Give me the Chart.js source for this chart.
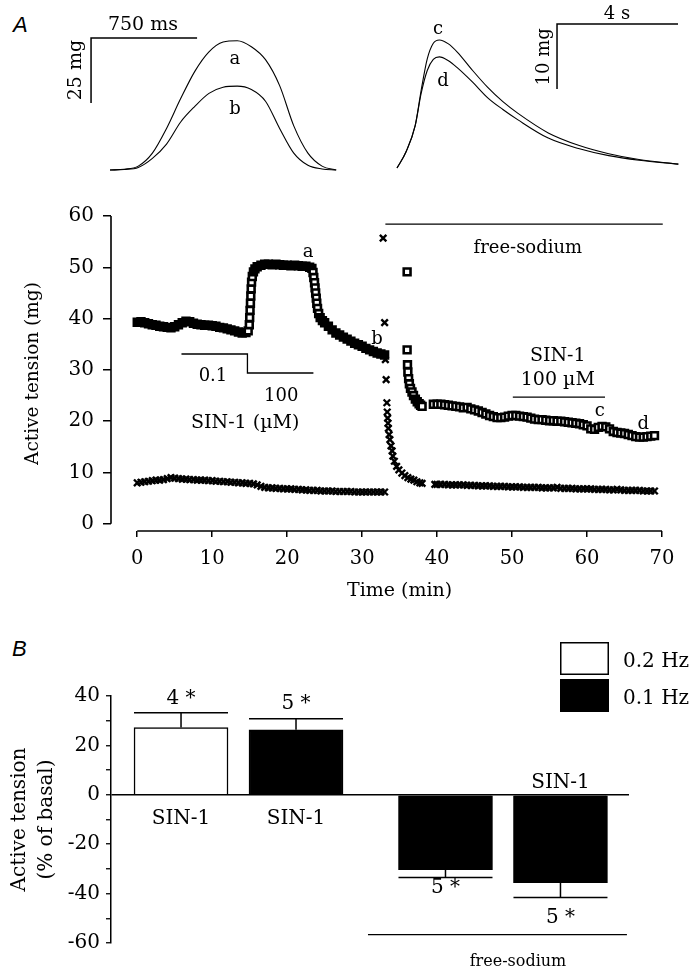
<!DOCTYPE html>
<html>
<head>
<meta charset="utf-8">
<script src="https://cdn.jsdelivr.net/npm/chart.js@4.4.1/dist/chart.umd.min.js"></script>
<style>
  body { margin: 0; background: #fff; }
  #page { position: relative; width: 695px; height: 970px; overflow: hidden; }
  canvas { position: absolute; }
  .panel { position: absolute; font: italic 22px 'Liberation Sans', Arial, sans-serif; line-height: 22px; }
</style>
</head>
<body>
<div id="page">
  <div class="panel" style="left:13px; top:14px">A</div>
  <div class="panel" style="left:12px; top:638px">B</div>
  <canvas id="twitchLeft" width="345" height="190" style="left:0; top:0"></canvas>
  <canvas id="twitchRight" width="350" height="190" style="left:345px; top:0"></canvas>
  <canvas id="timeCourse" width="695" height="430" style="left:0; top:190px"></canvas>
  <canvas id="summary" width="695" height="350" style="left:0; top:620px"></canvas>
</div>
<script>
// --- Panel A, insets: single twitches a/b (ms, mg) and c/d (s, mg)
const twitchMs = [0, 100, 200, 300, 400, 500, 600, 700, 800, 900, 1000, 1100, 1200, 1300, 1400, 1500, 1600];
const twitchA  = [0, 0.3, 1.5, 6.5, 16, 27.5, 38, 45.5, 49.3, 49.8, 47.5, 42.5, 32.5, 17, 6.5, 1.5, 0];
const twitchB  = [0, 0.2, 1, 4.5, 10, 18.5, 24.5, 29.5, 31.9, 32.3, 31, 26.5, 16, 6.5, 1.8, 0.4, 0];

const twitchSec = [0, 0.3, 0.6, 0.8, 1.0, 1.2, 1.4, 1.7, 2.0, 2.5, 3.0, 3.5, 4.0, 5.0, 6.0, 7.0, 8.0, 9.3];
const twitchC   = [0, 2.5, 6.5, 12.0, 16.8, 19.2, 19.7, 19.1, 17.8, 15.0, 12.4, 10.2, 8.4, 5.4, 3.5, 2.2, 1.3, 0.6];
const twitchD   = [0, 2.5, 6.5, 11.5, 15.0, 16.7, 17.1, 16.5, 15.4, 13.2, 10.8, 9.0, 7.4, 4.6, 3.0, 1.9, 1.2, 0.6];

// --- Panel A, time course: [time (min), active tension (mg)]
const squaresControl = [
  [0,39.3],[0.5,39.4],[1,39.2],[1.5,39.0],[2,38.8],[2.5,38.7],[3,38.5],[3.5,38.4],[4,38.3],[4.5,38.2],
  [5,38.4],[5.5,38.8],[6,39.2],[6.5,39.5],[7,39.4],[7.5,39.1],[8,38.9],[8.5,38.8],[9,38.7],[9.5,38.7],
  [10,38.6],[10.5,38.5],[11,38.3],[11.5,38.2],[12,38.0],[12.5,37.8],[13,37.6],[13.5,37.4],[14,37.2],[14.5,37.3],
  [14.8,37.6],[14.95,38.8],[15.0,40.2],[15.05,41.6],[15.1,43.0],[15.15,44.4],[15.2,45.8],[15.25,47.1],[15.35,48.2],[15.5,49.1],
  [15.7,49.7],[16,50.1],[16.5,50.4],[17,50.6],[17.5,50.6],[18,50.5],[18.5,50.6],[19,50.5],[19.5,50.4],[20,50.4],
  [20.5,50.3],[21,50.4],[21.5,50.3],[22,50.2],[22.5,50.2],[23,50.0],[23.3,49.8],[23.45,49.0],[23.55,48.0],[23.65,47.0],
  [23.72,46.0],[23.8,45.0],[23.88,44.0],[23.95,43.0],[24.05,42.0],[24.2,41.0],[24.4,40.2],[24.7,39.6],[25,39.2],[25.5,38.5],
  [26,37.8],[26.5,37.2],[27,36.8],[27.5,36.4],[28,36.0],[28.5,35.6],[29,35.2],[29.5,34.9],[30,34.6],[30.5,34.2],
  [31,33.9],[31.5,33.6],[32,33.3],[32.5,33.1],[33,32.9]
];
const squaresSodium = [
  [36.0,49.1],[36.0,33.9],[36.05,31.0],[36.1,29.6],[36.2,28.3],[36.3,27.3],[36.45,26.4],[36.65,25.7],[36.85,25.0],[37.1,24.3],
  [37.35,23.8],[37.6,23.4],[37.8,23.1],[38.0,22.9],
  [39.5,23.3],[40,23.3],[40.5,23.3],[41,23.2],[41.5,23.1],[42,23.0],[42.5,22.9],[43,22.8],[43.5,22.6],[44,22.7],
  [44.5,22.4],[45,22.2],[45.5,22.0],[46,21.7],[46.5,21.4],[47,21.1],[47.5,20.9],[48,20.7],[48.5,20.7],[49,20.8],
  [49.5,21.0],[50,21.1],[50.5,21.1],[51,21.0],[51.5,20.9],[52,20.8],[52.5,20.6],[53,20.4],[53.5,20.3],[54,20.3],
  [54.5,20.2],[55,20.1],[55.5,20.1],[56,20.0],[56.5,20.0],[57,19.9],[57.5,19.8],[58,19.7],[58.5,19.6],[59,19.5],
  [59.5,19.3],[60,19.1],[60.5,18.5],[61,18.4],[61.5,18.8],[62,19.0],[62.5,18.9],[63,18.5],[63.5,18.0],[64,17.8],
  [64.5,17.7],[65,17.6],[65.5,17.4],[66,17.2],[66.5,17.0],[67,16.9],[67.5,16.9],[68,17.0],[68.5,17.1],[69,17.2]
];
const crossesControl = [
  [0,8.0],[0.5,8.1],[1,8.2],[1.5,8.3],[2,8.4],[2.5,8.5],[3,8.5],[3.5,8.6],[4,8.8],[4.5,9.0],
  [5,8.9],[5.5,8.8],[6,8.7],[6.5,8.7],[7,8.6],[7.5,8.6],[8,8.5],[8.5,8.5],[9,8.5],[9.5,8.4],
  [10,8.4],[10.5,8.3],[11,8.3],[11.5,8.2],[12,8.2],[12.5,8.1],[13,8.1],[13.5,8.0],[14,8.0],[14.5,7.9],
  [15,7.9],[15.5,7.8],[16,7.6],[16.5,7.3],[17,7.1],[17.5,7.0],[18,7.0],[18.5,6.9],[19,6.9],[19.5,6.8],
  [20,6.8],[20.5,6.8],[21,6.7],[21.5,6.7],[22,6.6],[22.5,6.6],[23,6.5],[23.5,6.5],[24,6.5],[24.5,6.4],
  [25,6.4],[25.5,6.4],[26,6.4],[26.5,6.3],[27,6.3],[27.5,6.3],[28,6.3],[28.5,6.3],[29,6.2],[29.5,6.2],
  [30,6.2],[30.5,6.2],[31,6.2],[31.5,6.2],[32,6.2],[32.5,6.2],[33,6.2]
];
const crossesSodium = [
  [32.8,55.7],[33.0,39.2],[33.1,32.0],[33.2,28.1],[33.3,23.6],[33.35,21.8],[33.4,20.6],[33.45,19.6],[33.5,18.6],[33.6,17.4],
  [33.7,16.4],[33.85,15.2],[34.0,14.2],[34.1,13.2],[34.3,12.2],[34.6,11.2],[34.9,10.5],[35.3,9.9],[35.7,9.4],[36.1,9.0],
  [36.5,8.7],[36.9,8.5],[37.3,8.2],[37.7,8.0],[38.0,7.9],
  [39.7,7.7],[40,7.7],[40.5,7.7],[41,7.7],[41.5,7.6],[42,7.6],[42.5,7.6],[43,7.6],[43.5,7.6],[44,7.5],
  [44.5,7.5],[45,7.5],[45.5,7.4],[46,7.4],[46.5,7.4],[47,7.4],[47.5,7.3],[48,7.3],[48.5,7.3],[49,7.3],
  [49.5,7.2],[50,7.2],[50.5,7.2],[51,7.2],[51.5,7.1],[52,7.1],[52.5,7.1],[53,7.1],[53.5,7.1],[54,7.0],
  [54.5,7.0],[55,7.0],[55.5,7.0],[56,7.1],[56.5,6.9],[57,6.9],[57.5,6.9],[58,6.9],[58.5,6.8],[59,6.8],
  [59.5,6.8],[60,6.8],[60.5,6.8],[61,6.7],[61.5,6.7],[62,6.7],[62.5,6.7],[63,6.6],[63.5,6.6],[64,6.7],
  [64.5,6.6],[65,6.5],[65.5,6.5],[66,6.5],[66.5,6.5],[67,6.5],[67.5,6.4],[68,6.4],[68.5,6.4],[69,6.4]
];
const timeTicks = [0, 10, 20, 30, 40, 50, 60, 70];
const tensionTicks = [0, 10, 20, 30, 40, 50, 60];

// --- Panel B: % change of active tension
const barLabels = ['SIN-1', 'SIN-1', '', 'SIN-1'];
const barGroup  = ['control', 'control', 'free-sodium', 'free-sodium'];
const barFreq   = ['0.2 Hz', '0.1 Hz', '0.1 Hz', '0.1 Hz'];
const barValues = [27.2, 26.3, -30.3, -35.6];
const barErrors = [6.0, 4.5, 3.2, 6.0];
const barN      = ['4 *', '5 *', '5 *', '5 *'];
const pctTicks  = [40, 20, 0, -20, -40, -60];

const SERIF = "'DejaVu Serif', serif";
const serif = size => ({ family: SERIF, size: size });
const fillFor = f => (f === '0.2 Hz' ? '#fff' : '#000');

// texts and lines placed in data units of the chart they belong to
const notesPlugin = {
  id: 'notes',
  afterDatasetsDraw(chart, args, opts) {
    const { ctx, scales: { x, y } } = chart;
    ctx.save();
    ctx.strokeStyle = '#000';
    ctx.fillStyle = '#000';
    (opts.lines || []).forEach(l => {
      ctx.lineWidth = l.w || 1.3;
      ctx.beginPath();
      l.pts.forEach((p, i) => {
        const px = x.getPixelForValue(p[0]), py = y.getPixelForValue(p[1]);
        i ? ctx.lineTo(px, py) : ctx.moveTo(px, py);
      });
      ctx.stroke();
    });
    (opts.texts || []).forEach(t => {
      ctx.save();
      ctx.font = (t.size || 19) + 'px ' + SERIF;
      ctx.textAlign = 'center';
      ctx.textBaseline = 'middle';
      ctx.translate(x.getPixelForValue(t.x), y.getPixelForValue(t.y));
      if (t.rot) ctx.rotate(t.rot * Math.PI / 180);
      ctx.fillText(t.text, 0, 0);
      ctx.restore();
    });
    ctx.restore();
  }
};

const traceSet = (xs, ys) => ({
  data: xs.map((v, i) => ({ x: v, y: ys[i] })),
  borderColor: '#000', borderWidth: 1.1, pointRadius: 0,
  cubicInterpolationMode: 'monotone', clip: false
});

const insetOptions = (pad, xr, yr, notes) => ({
  responsive: false, animation: false, events: [], devicePixelRatio: 1,
  layout: { padding: pad },
  plugins: { legend: { display: false }, tooltip: { enabled: false }, notes: notes },
  scales: {
    x: { type: 'linear', min: xr[0], max: xr[1], display: false },
    y: { min: yr[0], max: yr[1], display: false }
  }
});

// Inset a/b
new Chart(document.getElementById('twitchLeft'), {
  type: 'line',
  data: { datasets: [traceSet(twitchMs, twitchA), traceSet(twitchMs, twitchB)] },
  options: insetOptions({ left: 90.2, right: 7.4, top: 35, bottom: 17.4 }, [-140, 1610], [-1, 52], {
    lines: [{ pts: [[-134, 25.8], [-134, 50.8], [616, 50.8]], w: 1.5 }],
    texts: [
      { x: 233, y: 56.0, text: '750 ms', size: 19 },
      { x: -240, y: 38.5, text: '25 mg', size: 19, rot: -90 },
      { x: 884, y: 42.5, text: 'a', size: 18 },
      { x: 884, y: 23.2, text: 'b', size: 18 }
    ]
  }),
  plugins: [notesPlugin]
});

// Inset c/d
new Chart(document.getElementById('twitchRight'), {
  type: 'line',
  data: { datasets: [traceSet(twitchSec, twitchC), traceSet(twitchSec, twitchD)] },
  options: insetOptions({ left: 52, right: 13.65, top: 18.5, bottom: 18.75 }, [0, 9.4], [-0.5, 23], {
    lines: [{ pts: [[5.29, 12.15], [5.29, 22.15], [9.29, 22.15]], w: 1.5 }],
    texts: [
      { x: 7.27, y: 23.6, text: '4 s', size: 18 },
      { x: 4.88, y: 17.1, text: '10 mg', size: 18, rot: -90 },
      { x: 1.36, y: 21.3, text: 'c', size: 18 },
      { x: 1.52, y: 13.3, text: 'd', size: 18 }
    ]
  }),
  plugins: [notesPlugin]
});

// axis lines that stop at the first and last tick (offset axes)
const axisLines = {
  id: 'axisLines',
  afterDraw(chart) {
    const { ctx, chartArea: a, scales: { x, y } } = chart;
    ctx.save();
    ctx.strokeStyle = '#000';
    ctx.lineWidth = 1.6;
    ctx.beginPath();
    ctx.moveTo(a.left, y.getPixelForValue(tensionTicks[0]));
    ctx.lineTo(a.left, y.getPixelForValue(tensionTicks[tensionTicks.length - 1]));
    ctx.moveTo(x.getPixelForValue(timeTicks[0]), a.bottom);
    ctx.lineTo(x.getPixelForValue(timeTicks[timeTicks.length - 1]), a.bottom);
    ctx.stroke();
    ctx.restore();
  }
};

const toXY = arr => arr.map(p => ({ x: p[0], y: p[1] }));

// samples on fast transitions stay open; where the trace is flat they merge into a dark band
const openWhenSteep = ctx => {
  const d = ctx.dataset.data, i = ctx.dataIndex;
  const prev = d[i - 1], next = d[i + 1], cur = d[i];
  if (!cur) return '#fff';
  const jump = Math.max(prev ? Math.abs(cur.y - prev.y) : 0, next ? Math.abs(next.y - cur.y) : 0);
  return jump > 0.9 ? '#fff' : '#000';
};

const squareSet = (arr, bw, fill) => ({
  data: toXY(arr),
  pointStyle: 'rect', pointRadius: 4.8, pointBorderWidth: bw,
  pointBorderColor: '#000', pointBackgroundColor: fill
});

new Chart(document.getElementById('timeCourse'), {
  type: 'scatter',
  data: {
    datasets: [
      squareSet(squaresControl, 2.6, openWhenSteep),
      squareSet(squaresSodium, 2.6, '#fff'),
      {
        data: toXY(crossesControl.concat(crossesSodium)),
        pointStyle: 'crossRot', pointRadius: 4.6, pointBorderWidth: 2.4,
        pointBorderColor: '#000'
      }
    ]
  },
  options: {
    responsive: false, animation: false, events: [], devicePixelRatio: 1,
    layout: { padding: { left: 0, top: 26, right: 33, bottom: 0 } },
    plugins: {
      legend: { display: false }, tooltip: { enabled: false },
      notes: {
        lines: [
          { pts: [[33.1, 58.4], [70.1, 58.4]] },
          { pts: [[5.9, 33.1], [14.7, 33.1], [14.7, 29.4], [23.5, 29.4]] },
          { pts: [[50.1, 24.7], [62.4, 24.7]] }
        ],
        texts: [
          { x: 22.8, y: 52.9, text: 'a', size: 18 },
          { x: 32.0, y: 35.9, text: 'b', size: 18 },
          { x: 61.7, y: 21.9, text: 'c', size: 18 },
          { x: 67.5, y: 19.4, text: 'd', size: 18 },
          { x: 52.1, y: 53.65, text: 'free-sodium', size: 18 },
          { x: 10.1, y: 28.7, text: '0.1', size: 18 },
          { x: 19.2, y: 24.9, text: '100', size: 18 },
          { x: 14.4, y: 19.6, text: 'SIN-1 (\u00b5M)', size: 19 },
          { x: 56.1, y: 32.7, text: 'SIN-1', size: 19 },
          { x: 56.1, y: 28.05, text: '100 \u00b5M', size: 19 },
          { x: 35, y: -13.05, text: 'Time (min)', size: 19 }
        ]
      }
    },
    scales: {
      x: {
        type: 'linear', min: -3.5, max: 70,
        afterBuildTicks: s => { s.ticks = timeTicks.map(v => ({ value: v })); },
        afterFit: s => { s.height = 89; },
        border: { display: false },
        grid: { drawOnChartArea: false, tickLength: 6, color: '#000', lineWidth: 1.5 },
        ticks: { color: '#000', font: serif(19.5), padding: 10, maxRotation: 0, autoSkip: false }
      },
      y: {
        min: -1.4, max: 60,
        afterBuildTicks: s => { s.ticks = tensionTicks.map(v => ({ value: v })); },
        afterFit: s => { s.width = 111; },
        border: { display: false },
        grid: { drawOnChartArea: false, tickLength: 8, color: '#000', lineWidth: 1.5 },
        ticks: { color: '#000', font: serif(20), padding: 9, autoSkip: false },
        title: { display: true, text: 'Active tension (mg)', color: '#000', font: serif(18.5), padding: { top: 21.6, bottom: 0 } }
      }
    }
  },
  plugins: [notesPlugin, axisLines]
});

// Panel B
const errorBars = {
  id: 'errorBars',
  afterDatasetsDraw(chart) {
    const { ctx, scales: { y } } = chart;
    const meta = chart.getDatasetMeta(0);
    ctx.save();
    ctx.strokeStyle = '#000';
    ctx.lineWidth = 1.5;
    meta.data.forEach((bar, i) => {
      const v = barValues[i];
      const tip = y.getPixelForValue(v + Math.sign(v) * barErrors[i]);
      const half = bar.width / 2;
      ctx.beginPath();
      ctx.moveTo(bar.x, bar.y);
      ctx.lineTo(bar.x, tip);
      ctx.moveTo(bar.x - half, tip);
      ctx.lineTo(bar.x + half, tip);
      ctx.stroke();
    });
    ctx.restore();
  }
};

const keyPlugin = {
  id: 'key',
  afterDraw(chart) {
    const ctx = chart.ctx;
    const names = [...new Set(barFreq)];
    ctx.save();
    names.forEach((n, i) => {
      const top = 22 + i * 37;
      ctx.fillStyle = fillFor(n);
      ctx.fillRect(560, top, 49, 33);
      ctx.strokeStyle = '#000';
      ctx.lineWidth = 1.5;
      ctx.strokeRect(560.75, top + 0.75, 47.5, 31.5);
      ctx.fillStyle = '#000';
      ctx.font = '20px ' + SERIF;
      ctx.textAlign = 'left';
      ctx.textBaseline = 'middle';
      ctx.fillText(n, 623, top + 19.5);
    });
    ctx.restore();
  }
};

// bars of the same group sit one slot apart, groups are split by a small gap
const barSlot = barGroup.map((g, i) => i + 1 + (g === 'free-sodium' ? 0.3 : 0));

const barTexts = [];
barLabels.forEach((l, i) => {
  if (!l) return;
  const above = barValues[i] < 0;
  barTexts.push({ x: barSlot[i], y: above ? 4.85 : -9.7, text: l, size: 20 });
});
const nY = [38.8, 36.8, -37.6, -49.7];
barN.forEach((n, i) => barTexts.push({ x: barSlot[i], y: nY[i], text: n, size: 20 }));
barTexts.push({ x: 3.93, y: -67.5, text: 'free-sodium', size: 16 });

new Chart(document.getElementById('summary'), {
  type: 'bar',
  data: {
    datasets: [{
      data: barValues.map((v, i) => ({ x: barSlot[i], y: v })),
      backgroundColor: barFreq.map(fillFor),
      borderColor: '#000', borderWidth: 1.5, barThickness: 94
    }]
  },
  options: {
    responsive: false, animation: false, events: [], devicePixelRatio: 1,
    layout: { padding: { left: 0, top: 76, right: 66, bottom: 27 } },
    plugins: {
      legend: { display: false }, tooltip: { enabled: false },
      notes: {
        lines: [{ pts: [[2.626, -56.6], [4.878, -56.6]] }],
        texts: barTexts
      }
    },
    scales: {
      x: { type: 'linear', min: 0.391, max: 4.896, offset: false, display: false },
      y: {
        min: -60, max: 40,
        afterFit: s => { s.width = 111; },
        border: { display: true, color: '#000', width: 1.5 },
        grid: {
          drawOnChartArea: true, tickLength: 5,
          color: c => (c.tick && c.tick.value === 0 ? '#000' : 'rgba(0,0,0,0)'),
          lineWidth: 1.5, tickColor: '#000', tickWidth: 1.3
        },
        ticks: {
          stepSize: 10, color: '#000', font: serif(20), padding: 6, autoSkip: false,
          callback: v => (pctTicks.includes(v) ? String(v) : '')
        },
        title: {
          display: true, text: ['Active tension', '(% of basal)'], color: '#000',
          font: { family: SERIF, size: 20, lineHeight: 1.35 }, padding: { top: 6.5, bottom: 0 }
        }
      }
    }
  },
  plugins: [notesPlugin, errorBars, keyPlugin]
});
</script>
</body>
</html>
